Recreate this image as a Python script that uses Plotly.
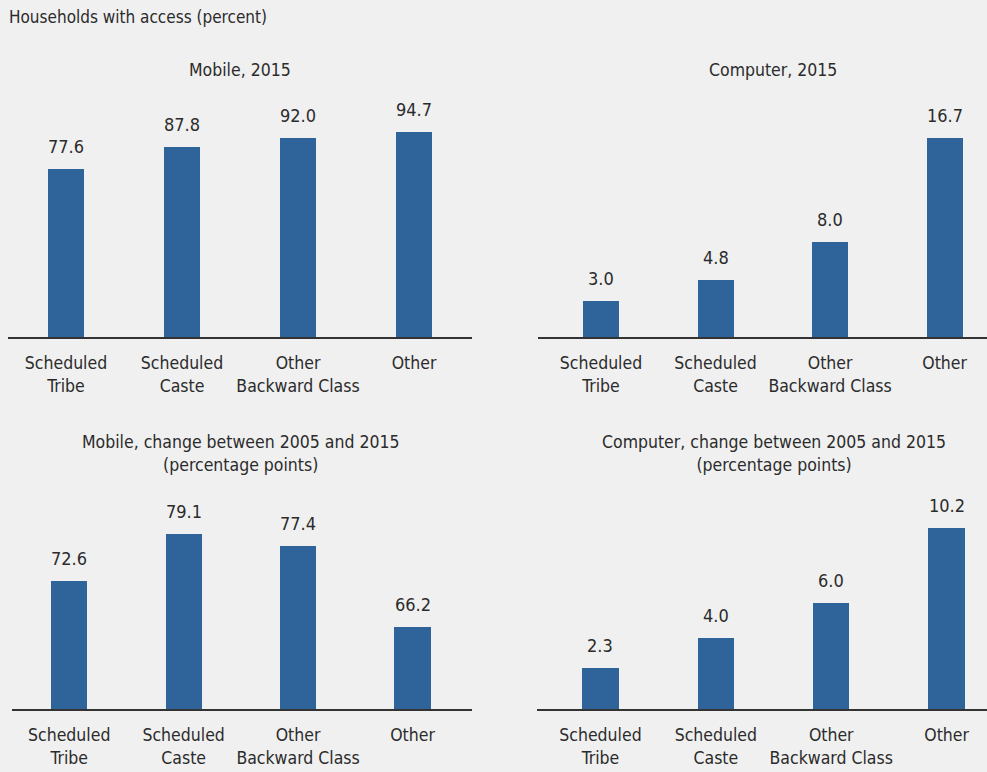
import plotly.graph_objects as go

categories = ["Scheduled<br>Tribe", "Scheduled<br>Caste", "Other<br>Backward Class", "Other"]
mobile_2015 = [77.6, 87.8, 92.0, 94.7]
computer_2015 = [3.0, 4.8, 8.0, 16.7]
mobile_change = [72.6, 79.1, 77.4, 66.2]
computer_change = [2.3, 4.0, 6.0, 10.2]

panel_titles = ["Mobile, 2015", "Computer, 2015",
                "Mobile, change between 2005 and 2015<br>(percentage points)",
                "Computer, change between 2005 and 2015<br>(percentage points)"]
main_title = "Households with access (percent)"

W, H = 987, 772
FONT = "DejaVu Sans Condensed, Roboto, sans-serif"
BAR = "#2E6499"
BG = "#F0F0F0"
TXT = "#2b2b2b"

def px_x(p):
    return p / W

def px_y(p):
    return 1 - p / H

fig = go.Figure()

panels = [
    # values, x pixel span, y pixel span (top, axis), x range, y range
    (mobile_2015, (8, 472), (100, 337), [-0.5, 3.5], [0, 109.7]),
    (computer_2015, (538, 987), (100, 337), [-0.55, 3.37], [0, 19.87]),
    (mobile_change, (12, 472), (472, 709), [-0.5, 3.52], [54.8, 87.67]),
    (computer_change, (537, 987), (472, 709), [-0.55, 3.35], [0, 13.39]),
]

idx = list(range(len(categories)))
for i, (vals, xs, ys, xr, yr) in enumerate(panels):
    n = "" if i == 0 else str(i + 1)
    fig.add_trace(go.Bar(
        x=idx, y=vals, width=0.315, marker=dict(color=BAR, line=dict(width=0)),
        xaxis="x" + n, yaxis="y" + n, hoverinfo="skip", showlegend=False,
    ))
    fig.update_layout(**{
        "xaxis" + n: dict(
            domain=[px_x(xs[0]), px_x(xs[1])], range=xr, anchor="y" + n,
            tickmode="array", tickvals=idx, ticktext=categories, tickangle=0,
            showline=True, linecolor="#333333", linewidth=1.5, ticks="",
            ticklabelstandoff=9,
            showgrid=False, zeroline=False, fixedrange=True,
            tickfont=dict(family=FONT, size=17.5, color=TXT),
        ),
        "yaxis" + n: dict(
            domain=[px_y(ys[1]), px_y(ys[0])], range=yr, anchor="x" + n,
            visible=False, showgrid=False, zeroline=False, fixedrange=True,
        ),
    })
    for j, v in enumerate(vals):
        fig.add_annotation(
            x=j, y=v, xref="x" + n, yref="y" + n, text=f"{v:.1f}",
            showarrow=False, yanchor="bottom", yshift=10,
            font=dict(family=FONT, size=18, color=TXT),
        )
    if i < 2:
        fig.add_annotation(
            x=1.5, y=px_y(70), xref="x" + n, yref="paper", text=panel_titles[i],
            showarrow=False, yanchor="middle", xanchor="center",
            font=dict(family=FONT, size=17.5, color=TXT),
        )
    else:
        fig.add_annotation(
            x=1.5, y=px_y(453), xref="x" + n, yref="paper", text=panel_titles[i],
            showarrow=False, yanchor="middle", xanchor="center",
            font=dict(family=FONT, size=17.5, color=TXT),
        )

fig.add_annotation(
    x=px_x(7), y=px_y(17), xref="paper", yref="paper", text=main_title,
    showarrow=False, xanchor="left", yanchor="middle",
    font=dict(family=FONT, size=17, color=TXT),
)

fig.update_layout(
    width=W, height=H, margin=dict(l=0, r=0, t=0, b=0),
    paper_bgcolor=BG, plot_bgcolor=BG, bargap=0,
)

fig.write_html("out.html", config={"displayModeBar": False},
               post_script="document.body.style.margin='0px';")
